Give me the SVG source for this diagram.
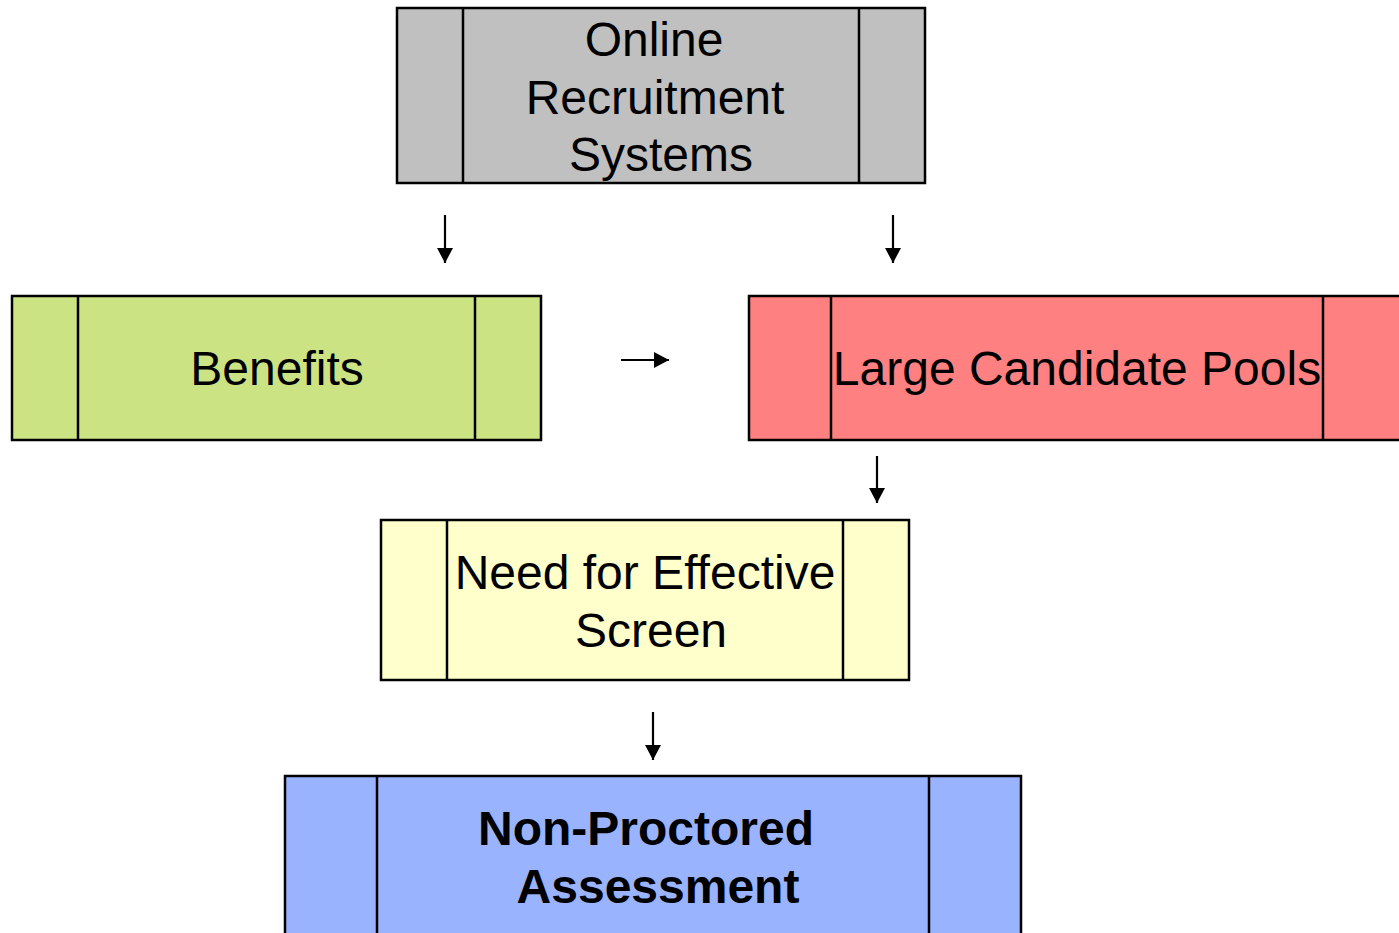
<svg xmlns="http://www.w3.org/2000/svg" width="1399" height="933" viewBox="0 0 1399 933">
<defs>
<style>
.box{stroke:#000;stroke-width:2.5}
.div{stroke:#000;stroke-width:2.5;fill:none}
.t{font-family:"Liberation Sans",Arial,sans-serif;font-size:48px;fill:#000;text-anchor:middle}
.b{font-weight:bold}
.c{stroke:#000;stroke-width:2.2;fill:none;marker-end:url(#ah)}
</style>
<marker id="ah" markerUnits="userSpaceOnUse" markerWidth="16" markerHeight="16" viewBox="0 0 16 16" refX="15" refY="8" orient="auto">
<path d="M0,0 L15,8 L0,16 Z" fill="#000"/>
</marker>
</defs>
<rect width="1399" height="933" fill="#fff"/>
<g id="online">
<rect class="box" x="397" y="8" width="528" height="175" fill="#C0C0C0"/>
<line class="div" x1="463" y1="8" x2="463" y2="183"/>
<line class="div" x1="859" y1="8" x2="859" y2="183"/>
<text class="t" x="654" y="56">Online</text>
<text class="t" x="655" y="114">Recruitment</text>
<text class="t" x="661" y="171">Systems</text>
</g>
<g id="benefits">
<rect class="box" x="12" y="296" width="529" height="144" fill="#CCE383"/>
<line class="div" x1="78" y1="296" x2="78" y2="440"/>
<line class="div" x1="475" y1="296" x2="475" y2="440"/>
<text class="t" x="277" y="385">Benefits</text>
</g>
<g id="pools">
<rect class="box" x="749" y="296" width="660" height="144" fill="#FF8080"/>
<line class="div" x1="831" y1="296" x2="831" y2="440"/>
<line class="div" x1="1323" y1="296" x2="1323" y2="440"/>
<text class="t" x="1077" y="385">Large Candidate Pools</text>
</g>
<g id="need">
<rect class="box" x="381" y="520" width="528" height="160" fill="#FFFFCC"/>
<line class="div" x1="447" y1="520" x2="447" y2="680"/>
<line class="div" x1="843" y1="520" x2="843" y2="680"/>
<text class="t" x="645" y="589">Need for Effective</text>
<text class="t" x="651" y="647">Screen</text>
</g>
<g id="nonproctored">
<rect class="box" x="285" y="776" width="736" height="170" fill="#99B3FF"/>
<line class="div" x1="377" y1="776" x2="377" y2="946"/>
<line class="div" x1="929" y1="776" x2="929" y2="946"/>
<text class="t b" x="646" y="845">Non-Proctored</text>
<text class="t b" x="658" y="903">Assessment</text>
</g>
<g id="connectors">
<line class="c" x1="445" y1="215" x2="445" y2="263"/>
<line class="c" x1="893" y1="215" x2="893" y2="263"/>
<line class="c" x1="621" y1="360" x2="669" y2="360"/>
<line class="c" x1="877" y1="456" x2="877" y2="503"/>
<line class="c" x1="653" y1="712" x2="653" y2="760"/>
</g>
</svg>
